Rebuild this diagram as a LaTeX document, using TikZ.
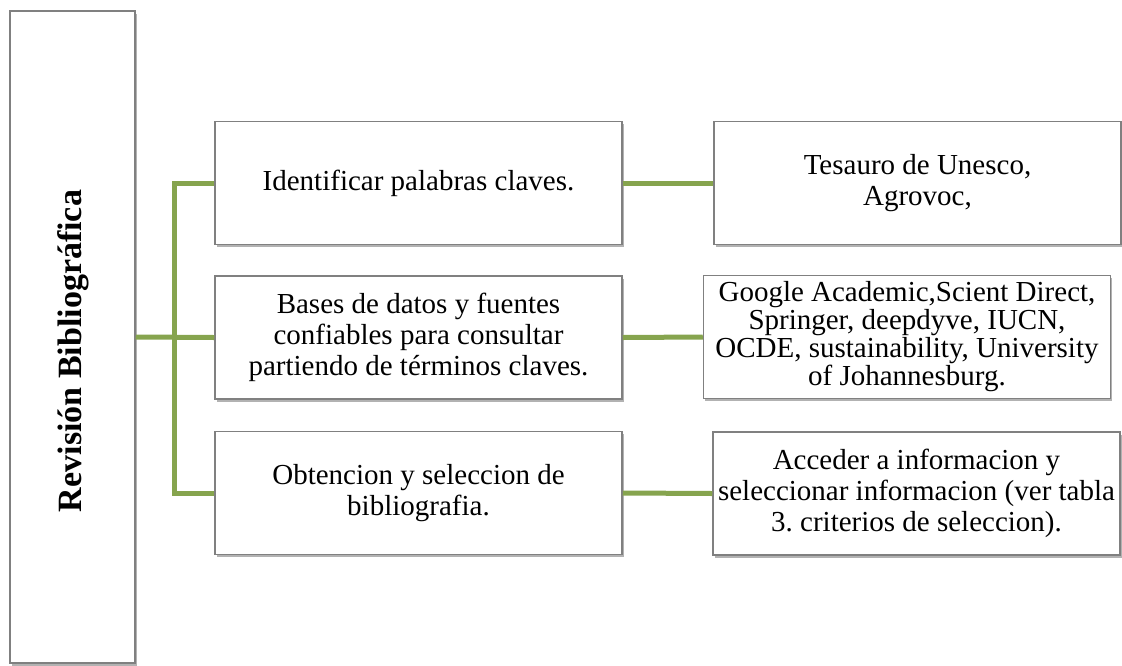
\documentclass[tikz,border=0pt]{standalone}
\usepackage{fontspec}
\setmainfont{Liberation Serif}
\usetikzlibrary{shadows}
\definecolor{olivegreen}{RGB}{134,164,78}
\definecolor{boxgray}{RGB}{128,128,128}
\frenchspacing

\begin{document}
\begin{tikzpicture}[x=1pt, y=-1pt,
  box/.style={draw=boxgray, line width=1.5pt, fill=white, minimum width=407pt, minimum height=123pt,
    align=center, inner sep=2pt, font=\fontsize{29}{31}\selectfont,
    drop shadow={shadow xshift=1.5pt, shadow yshift=-2.5pt, opacity=.3, fill=black}},
  link/.style={draw=olivegreen, line width=5pt}]
\useasboundingbox (0,0) rectangle (1122,665);
\node[box, minimum width=125pt, minimum height=652pt] (rev) at (72.5,337) {};
\node[rotate=90, font=\fontsize{34}{36}\selectfont\bfseries] (revlbl) at (73,351) {Revisión Bibliográfica};
\node[box] (b1) at (418.5,183) {Identificar palabras claves.};
\node[box] (b2) at (418.5,337.5) {Bases de datos y fuentes\\ confiables para consultar\\ partiendo de términos claves.};
\node[box] (b3) at (418.5,493) {Obtencion y seleccion de\\ bibliografia.};
\node[box] (r1) at (917.5,183) {Tesauro de Unesco,\\ Agrovoc,};
\node[box, font=\fontsize{29}{28}\selectfont] (r2) at (907,337) {Google Academic,Scient Direct,\\ Springer, deepdyve, IUCN,\\ OCDE, sustainability, University\\ of Johannesburg.};
\node[box] (r3) at (916.5,493.5) {Acceder a informacion y\\ seleccionar informacion (ver tabla\\ 3. criterios de seleccion).};
\coordinate (fork) at (174,183);
\draw[link] (b1.west) -- (fork) |- (b3.west);
\draw[link] (rev.east) -- (b2.west);
\draw[link] (b1.east) -- (r1.west);
\draw[link] (b2.east) -- (r2.west);
\draw[link] (b3.east) -- (r3.west);
\end{tikzpicture}
\end{document}
